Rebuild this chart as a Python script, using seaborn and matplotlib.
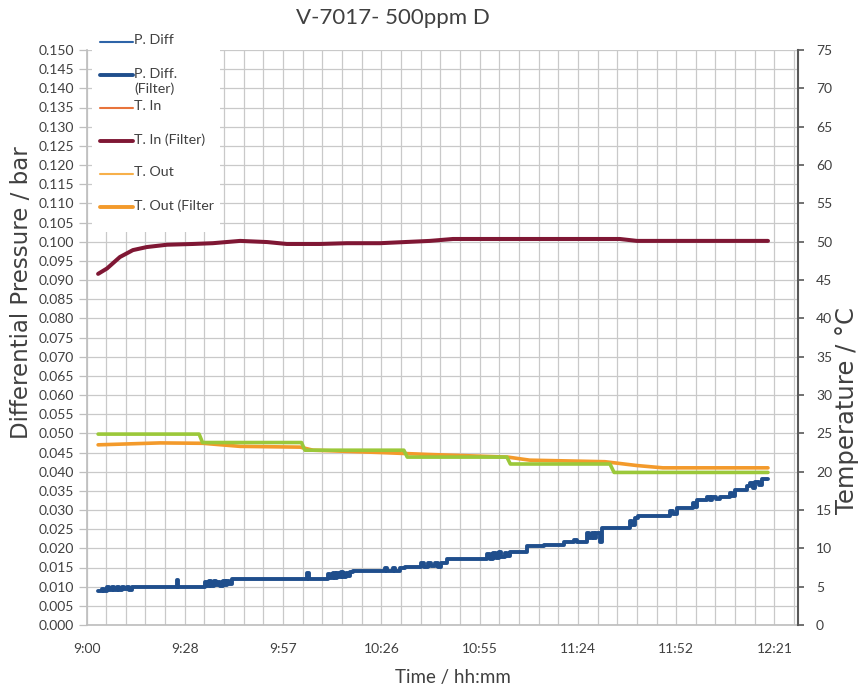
import numpy as np
import matplotlib
matplotlib.use("Agg")
import matplotlib.pyplot as plt
import seaborn as sns
from matplotlib.ticker import MultipleLocator, FormatStrFormatter
from matplotlib.lines import Line2D
from matplotlib.patches import Rectangle

# time axis in minutes after 9:00, one major unit = 0.02 day = 28.8 min
x_tick_labels = ["9:00", "9:28", "9:57", "10:26", "10:55", "11:24", "11:52", "12:21"]

# P. Diff (Filter) in bar, read as steps
pdiff_t = [3.4, 4.5, 5.0, 6.0, 6.5, 7.5, 8.0, 9.0, 9.5, 10.5, 11.0, 12.0, 12.5, 13.3,
           26.4, 26.8,
           34.7, 35.3, 36.0, 36.6, 37.3, 37.9, 38.6, 39.2, 39.9, 40.5, 41.2, 41.8, 42.6,
           64.6, 65.1,
           70.8, 71.4, 72.1, 72.7, 73.4, 74.0, 74.7, 75.3, 76.0, 76.6, 77.3, 78.1,
           87.5, 88.2, 89.8, 90.5, 91.9, 93.3,
           98.0, 99.0, 100.0, 101.0, 102.0, 103.0, 104.0, 105.6,
           117.3, 118.2, 119.0, 119.9, 120.8, 121.6, 122.5, 123.3, 124.1,
           129.0, 134.0,
           140.0, 143.0, 143.6, 146.6, 147.3, 148.0, 148.7, 149.4, 150.5, 151.0,
           159.2, 160.0, 160.8, 161.6,
           171.0, 171.8, 173.1,
           177.7, 178.4, 178.9,
           181.8, 182.6, 183.4, 184.4, 185.6,
           188.5, 189.2, 190.0,
           193.5, 194.4, 195.2, 196.0, 197.0, 198.0, 199.7]
pdiff_v = [.0090, .0095, .0090, .0098, .0091, .0099, .0092, .0100, .0091, .0100, .0093, .0100, .0092, .0100,
           .0118, .0100,
           .0113, .0102, .0114, .0103, .0115, .0104, .0113, .0103, .0115, .0105, .0114, .0106, .0120,
           .0135, .0120,
           .0134, .0122, .0136, .0123, .0135, .0124, .0137, .0125, .0136, .0127, .0137, .0141,
           .0149, .0141, .0150, .0142, .0150, .0152,
           .0161, .0152, .0162, .0153, .0161, .0152, .0162, .0172,
           .0186, .0173, .0189, .0175, .0190, .0177, .0189, .0180, .0191,
           .0207, .0210,
           .0217, .0222, .0217, .0240, .0226, .0241, .0228, .0240, .0217, .0253,
           .0272, .0260, .0280, .0284,
           .0298, .0290, .0304,
           .0318, .0308, .0326,
           .0333, .0326, .0335, .0328, .0335,
           .0345, .0336, .0352,
           .0362, .0370, .0358, .0372, .0364, .0381, .0381]

# T. In (Filter) in degC
tin_t = [3.4, 6.0, 9.8, 13.6, 17.7, 23.6, 31.2, 37.0, 45.0, 52.9, 58.7, 68.4,
         76.3, 86.0, 95.7, 100.6, 107.4, 156.3, 161.3, 199.7]
tin_v = [45.8, 46.5, 48.0, 48.9, 49.3, 49.6, 49.7, 49.8, 50.1, 49.95, 49.7, 49.7,
         49.8, 49.8, 50.0, 50.1, 50.35, 50.35, 50.1, 50.1]

# T. Out (Filter) in degC
tout_t = [3.4, 21.5, 34.1, 45.0, 62.6, 66.4, 86.0, 99.8, 123.5, 129.9, 151.9,
          161.3, 168.9, 199.7]
tout_v = [23.5, 23.75, 23.7, 23.3, 23.2, 22.8, 22.5, 22.25, 21.9, 21.5, 21.3,
          20.8, 20.5, 20.5]

# green stepped temperature (not in the legend)
tset_t = [3.4, 33.0, 34.0, 63.0, 64.0, 93.0, 94.0, 123.2, 124.2, 153.4, 154.6, 199.7]
tset_v = [24.9, 24.9, 23.8, 23.8, 22.8, 22.8, 21.9, 21.9, 21.0, 21.0, 19.9, 19.9]

legend_labels = ["P. Diff", "P. Diff.\n(Filter)", "T. In", "T. In (Filter)", "T. Out", "T. Out (Filter"]
legend_colors = ["#2E64A8", "#1F4E8C", "#E8743B", "#7F1734", "#F7B04A", "#F39A2B"]
legend_widths = [1.5, 2.8, 1.5, 2.8, 1.5, 2.8]

sns.set_theme(style="white")
plt.rcParams['font.family'] = ['Lato', 'DejaVu Sans']

W, H = 861, 687
fig, ax = plt.subplots(figsize=(W / 100, H / 100), dpi=100)
fig.subplots_adjust(left=86.5 / W, right=798 / W, top=1 - 50 / H, bottom=1 - 625 / H)
ax2 = ax.twinx()

sns.lineplot(x=pdiff_t, y=pdiff_v, ax=ax, estimator=None, sort=False,
             color="#1F4E8C", lw=2.8, drawstyle="steps-post")
sns.lineplot(x=tin_t, y=tin_v, ax=ax2, estimator=None, sort=False,
             color="#7F1734", lw=2.9)
sns.lineplot(x=tout_t, y=tout_v, ax=ax2, estimator=None, sort=False,
             color="#F39A2B", lw=2.6)
sns.lineplot(x=tset_t, y=tset_v, ax=ax2, estimator=None, sort=False,
             color="#9BC83A", lw=2.6)

ax.set_xlim(0, 208.5)
ax.set_ylim(0, 0.150)
ax2.set_ylim(0, 75)

ax.set_xticks(np.arange(len(x_tick_labels)) * 28.8, x_tick_labels)
ax.xaxis.set_minor_locator(MultipleLocator(5.76))
ax.yaxis.set_major_locator(MultipleLocator(0.005))
ax.yaxis.set_major_formatter(FormatStrFormatter("%.3f"))
ax2.yaxis.set_major_locator(MultipleLocator(5))

ax.set_axisbelow(True)
ax.grid(which="both", axis="x", color="#C9C9C9", lw=0.9)
ax.grid(which="major", axis="y", color="#C9C9C9", lw=0.9)

for a in (ax, ax2):
    a.spines["top"].set_visible(False)
ax2.spines["left"].set_visible(False)
ax2.spines["bottom"].set_visible(False)
ax.spines["right"].set_visible(False)
ax.spines["left"].set_color("#BFBFBF")
ax.spines["bottom"].set_color("#BFBFBF")
ax2.spines["right"].set_color("#595959")
ax2.spines["right"].set_linewidth(1.5)

ax.tick_params(axis="both", which="major", direction="out", length=6, width=0.9,
               color="#BFBFBF", labelsize=10, labelcolor="#404040", pad=3)
ax.tick_params(axis="x", which="minor", length=0)
ax.tick_params(axis="x", which="major", pad=7)
ax2.tick_params(axis="y", direction="out", length=4, width=1.2, color="#595959",
                labelsize=10, labelcolor="#404040", pad=9)

# vertical axis titles are long and thin in the original, a wide face fits best
ax.set_xlabel("Time / hh:mm", fontsize=13.5, color="#404040")
ax.set_ylabel("Differential Pressure / bar", fontsize=16.5, color="#404040",
              family=["DejaVu Sans"])
ax2.set_ylabel("Temperature / °C", fontsize=17.5, color="#404040",
               family=["DejaVu Sans"])
ax.xaxis.set_label_coords((453 - 86.5) / 711.5, (625 - 678) / 575)
ax.xaxis.label.set_verticalalignment("center")
ax.yaxis.set_label_coords((22 - 86.5) / 711.5, (625 - 293) / 575)
ax.yaxis.label.set_verticalalignment("center")
ax2.yaxis.set_label_coords((847 - 86.5) / 711.5, (625 - 410) / 575)
ax2.yaxis.label.set_verticalalignment("center")

fig.text(393 / W, 1 - 18 / H, "V-7017- 500ppm D", ha="center", va="center",
         fontsize=16, color="#404040")

# legend box drawn over the top-left corner, as in the original
fig.add_artist(Rectangle((92 / W, 1 - 232 / H), 128 / W, 204 / H,
                         transform=fig.transFigure, facecolor="white",
                         edgecolor="none", zorder=5))
legend_y = [42, 75, 108, 141, 174, 207]
for lab, col, lw, yy in zip(legend_labels, legend_colors, legend_widths, legend_y):
    fig.add_artist(Line2D([100 / W, 133 / W], [1 - yy / H, 1 - yy / H],
                          transform=fig.transFigure, color=col, lw=lw, zorder=6))
    fig.text(134 / W, 1 - (yy - 7.5) / H, lab, ha="left", va="top", fontsize=10.3,
             color="#404040", linespacing=1.25, zorder=6)

fig.savefig("out.png", dpi=100)
